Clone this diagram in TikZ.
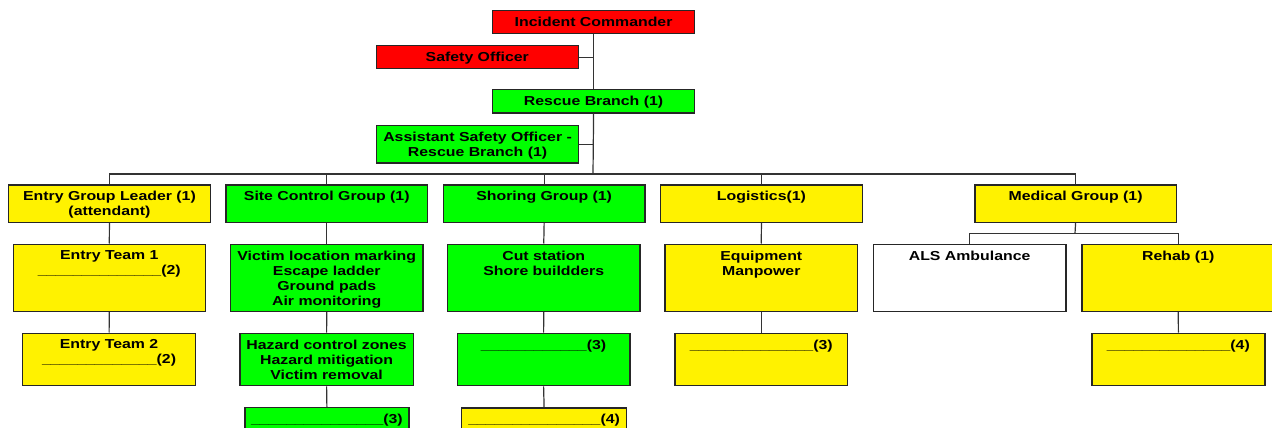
\documentclass[tikz,border=0pt]{standalone}
\usepackage{fontspec}
\setmainfont{Liberation Sans}[FakeStretch=1.22]
\newcommand\bx[3]{\parbox[c][#2][t]{#1}{\fontsize{13}{15}\selectfont\bfseries\centering\vspace*{6.5pt}#3\par}}
\newcommand\blank[1]{\foreach \i in {1,...,#1}{\_}}
\begin{document}
\begin{tikzpicture}[x=1pt,y=-1pt,
  box/.style={draw=black!85, line width=1.2pt, inner sep=0pt, anchor=north west},
  rd/.style={box, fill=red},
  gr/.style={box, fill=green},
  yl/.style={box, fill=yellow},
  wh/.style={box, fill=white},
  conn/.style={draw=black!80, line width=1.2pt}]
\useasboundingbox (0,0) rectangle (1272,428);
\clip (0,0) rectangle (1272,428);
% top chain
\node[rd] (ic)  at (492,10)    {\bx{202pt}{22.7pt}{Incident Commander}};
\node[rd] (so)  at (375.7,45.3){\bx{202pt}{22.7pt}{Safety Officer}};
\node[gr] (rb)  at (492,89.3)  {\bx{202pt}{23pt}{Rescue Branch (1)}};
\node[gr] (aso) at (376,124.7) {\bx{202pt}{37.6pt}{Assistant Safety Officer -\\Rescue Branch (1)}};
% row 1
\node[yl] (egl) at (8,184.3)     {\bx{201.7pt}{37.4pt}{Entry Group Leader (1)\\(attendant)}};
\node[gr] (scg) at (225.3,184.3) {\bx{201.7pt}{37.4pt}{Site Control Group (1)}};
\node[gr] (shg) at (442.7,184.3) {\bx{201.7pt}{37.4pt}{Shoring Group (1)}};
\node[yl] (log) at (660,184.3)   {\bx{201.7pt}{37.4pt}{Logistics(1)}};
\node[yl] (med) at (974.3,184.3) {\bx{201.4pt}{37.4pt}{Medical Group (1)}};
% row 2
\node[yl] (et1) at (12.7,243.5)  {\bx{192pt}{67.5pt}{Entry Team 1\\\blank{14}(2)}};
\node[gr] (vic) at (230,243.5)   {\bx{192.3pt}{67.5pt}{Victim location marking\\Escape ladder\\Ground pads\\Air monitoring}};
\node[gr] (cut) at (447,243.5)   {\bx{192.3pt}{67.5pt}{Cut station\\Shore buildders}};
\node[yl] (eqp) at (664.3,243.5) {\bx{192.7pt}{67.5pt}{Equipment\\Manpower}};
\node[wh] (als) at (872.7,243.5) {\bx{192.6pt}{67.5pt}{ALS Ambulance}};
\node[yl] (reh) at (1081.3,243.5){\bx{192.7pt}{67.5pt}{Rehab (1)}};
% row 3
\node[yl] (et2) at (22,332.5)    {\bx{173pt}{52.7pt}{Entry Team 2\\\blank{13}(2)}};
\node[gr] (haz) at (239.3,332.5) {\bx{173.4pt}{52.7pt}{Hazard control zones\\Hazard mitigation\\Victim removal}};
\node[gr] (sh3) at (456.7,332.5) {\bx{172.6pt}{52.7pt}{\blank{12}(3)}};
\node[yl] (lg3) at (674.3,332.5) {\bx{172.7pt}{52.7pt}{\blank{14}(3)}};
\node[yl] (rh4) at (1091.3,332.5){\bx{173pt}{52.7pt}{\blank{14}(4)}};
% row 4
\node[gr] (sc3) at (244.3,407)   {\bx{164pt}{52pt}{\blank{15}(3)}};
\node[yl] (sh4) at (461,407.3)   {\bx{165pt}{52pt}{\blank{15}(4)}};
% connectors
\coordinate (bus) at (593,174);
\coordinate (medbus) at (1075,233.3);
\draw[conn] (ic.south) -- (rb.north);
\draw[conn] (so.east) -- (so.east -| ic.south);
\draw[conn] (rb.south) -- (bus);
\draw[conn] (aso.east) -- (aso.east -| rb.south);
\draw[conn] (egl.north) |- (bus) -| (med.north);
\draw[conn] (scg.north) -- (scg.north |- bus);
\draw[conn] (shg.north) -- (shg.north |- bus);
\draw[conn] (log.north) -- (log.north |- bus);
\draw[conn] (egl.south) -- (et1.north);
\draw[conn] (et1.south) -- (et2.north);
\draw[conn] (scg.south) -- (vic.north);
\draw[conn] (vic.south) -- (haz.north);
\draw[conn] (haz.south) -- (sc3.north);
\draw[conn] (shg.south) -- (cut.north);
\draw[conn] (cut.south) -- (sh3.north);
\draw[conn] (sh3.south) -- (sh4.north);
\draw[conn] (log.south) -- (eqp.north);
\draw[conn] (eqp.south) -- (lg3.north);
\draw[conn] (med.south) -- (medbus);
\draw[conn] (als.north) |- (medbus) -| (reh.north);
\draw[conn] (reh.south) -- (rh4.north);
\end{tikzpicture}
\end{document}
